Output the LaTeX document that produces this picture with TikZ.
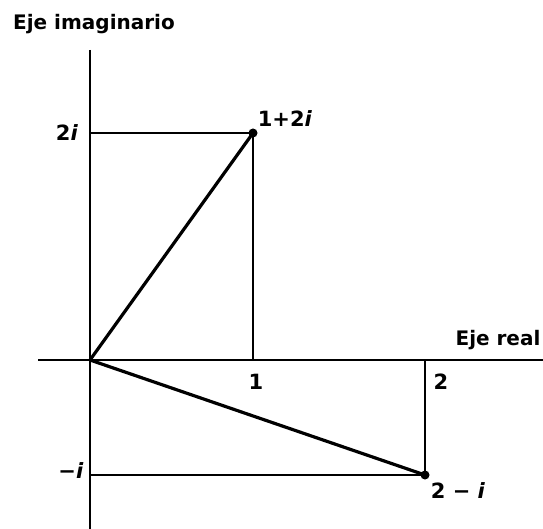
\documentclass[tikz,border=0pt]{standalone}
\usepackage{fontspec}
\setmainfont{DejaVu Sans}
\begin{document}
\begin{tikzpicture}[x=1pt,y=-1pt,
  lbl/.style={inner sep=0pt, font=\fontsize{21}{23}\selectfont\bfseries},
  ttl/.style={inner sep=0pt, font=\fontsize{20}{22}\selectfont\bfseries},
  axis/.style={line width=2pt},
  guide/.style={line width=1.3pt},
  vec/.style={line width=3.2pt},
  dot/.style={circle, fill=black, inner sep=0pt, minimum size=9pt}]
\useasboundingbox (0,0) rectangle (543,529);
% axes
\coordinate (xl) at (38,360);
\coordinate (xr) at (543,360);
\coordinate (yt) at (90,50);
\coordinate (yb) at (90,529);
\coordinate (O) at (90,360);
\coordinate (y2) at (90,133);
\coordinate (ym) at (90,475);
\coordinate (x1) at (253,360);
\coordinate (x2) at (425,360);
\draw[axis] (xl) -- (xr);
\draw[axis] (yt) -- (yb);
% points
\node[dot] (A) at (253,133) {};
\node[dot] (B) at (425,475) {};
% guides
\draw[guide] (y2) -- (A.center) -- (x1);
\draw[guide] (ym) -- (B.center) -- (x2);
% vectors
\draw[vec] (O) -- (A.center);
\draw[vec] (O) -- (B.center);
% labels
\node[ttl] (limag) at (94,24) {Eje imaginario};
\node[ttl] (lreal) at (498,340) {Eje real};
\node[lbl] (l2i) at (67,133) {2\textit{i}};
\node[lbl] (lmi) at (71,471) {−\textit{i}};
\node[lbl] (l1) at (256,382) {1};
\node[lbl] (l2) at (441,382) {2};
\node[lbl] (lA) at (285,119) {1+2\textit{i}};
\node[lbl] (lB) at (458,491) {2 − \textit{i}};
\end{tikzpicture}
\end{document}
